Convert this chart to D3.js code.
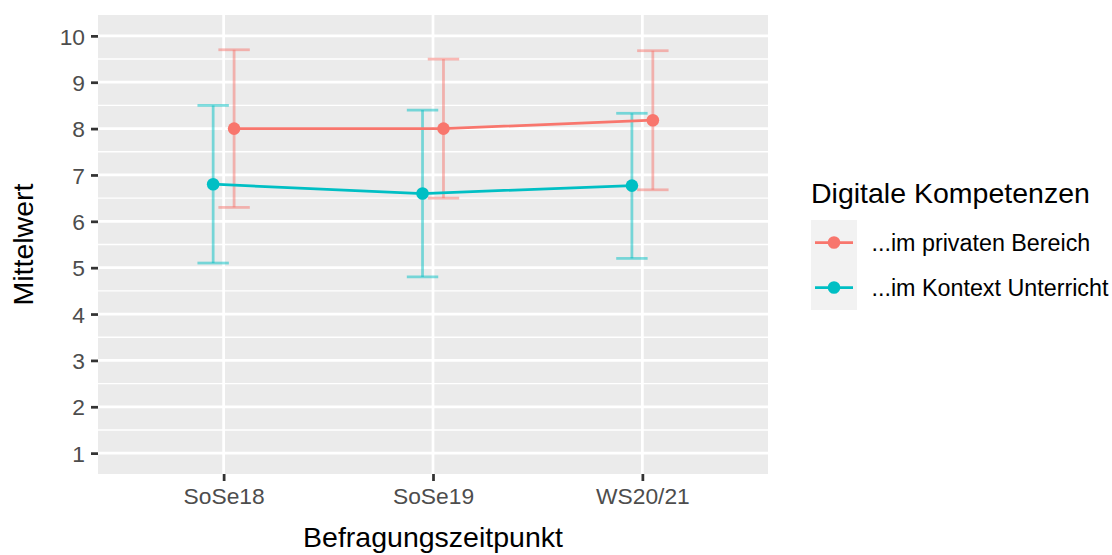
<!DOCTYPE html>
<html>
<head>
<meta charset="utf-8">
<script src="https://cdn.jsdelivr.net/npm/d3@7"></script>
<style>
  html, body { margin: 0; padding: 0; background: #ffffff; }
  svg { display: block; font-family: "Liberation Sans", Arial, Helvetica, sans-serif; }
</style>
</head>
<body>
<svg id="chart" width="1112" height="555"></svg>
<script>
// Survey waves
const categories = ["SoSe18", "SoSe19", "WS20/21"];

// Series labels (legend)
const seriesNames = ["...im privaten Bereich", "...im Kontext Unterricht"];
const seriesColors = ["#F8766D", "#00BFC4"];

// Mean and error-bar bounds per wave: private use
const privatMean  = [8.0, 8.0, 8.18];
const privatLower = [6.3, 6.5, 6.68];
const privatUpper = [9.7, 9.5, 9.68];

// Mean and error-bar bounds per wave: classroom use
const unterrichtMean  = [6.8, 6.6, 6.77];
const unterrichtLower = [5.1, 4.8, 5.2];
const unterrichtUpper = [8.5, 8.4, 8.33];

const yTicks = [1, 2, 3, 4, 5, 6, 7, 8, 9, 10];
const yMinorTicks = [1.5, 2.5, 3.5, 4.5, 5.5, 6.5, 7.5, 8.5, 9.5];

const series = [
  { name: seriesNames[0], color: seriesColors[0], dodge: 0.05,
    values: categories.map((c, i) => ({ cat: c, mean: privatMean[i], lo: privatLower[i], hi: privatUpper[i] })) },
  { name: seriesNames[1], color: seriesColors[1], dodge: -0.05,
    values: categories.map((c, i) => ({ cat: c, mean: unterrichtMean[i], lo: unterrichtLower[i], hi: unterrichtUpper[i] })) }
];

const panel = { left: 98, top: 15, right: 768, bottom: 474 };
const svg = d3.select("#chart");

const x = d3.scalePoint().domain(categories).range([panel.left, panel.right]).padding(0.6);
const y = d3.scaleLinear().domain([0.55, 10.45]).range([panel.bottom, panel.top]);
const step = x.step();

const lw = 2.75;       // ggplot linewidth 0.5 at this resolution
const tickFont = 22.8;
const legendFont = 23.3;
const titleFont = 28.5;

// Panel background
svg.append("rect")
  .attr("x", panel.left).attr("y", panel.top)
  .attr("width", panel.right - panel.left).attr("height", panel.bottom - panel.top)
  .attr("fill", "#EBEBEB");

const grid = svg.append("g");
grid.selectAll("line.minor").data(yMinorTicks).join("line")
  .attr("x1", panel.left).attr("x2", panel.right)
  .attr("y1", d => y(d)).attr("y2", d => y(d))
  .attr("stroke", "#ffffff").attr("stroke-width", lw / 2);
grid.selectAll("line.majorY").data(yTicks).join("line")
  .attr("x1", panel.left).attr("x2", panel.right)
  .attr("y1", d => y(d)).attr("y2", d => y(d))
  .attr("stroke", "#ffffff").attr("stroke-width", lw);
grid.selectAll("line.majorX").data(categories).join("line")
  .attr("x1", d => x(d)).attr("x2", d => x(d))
  .attr("y1", panel.top).attr("y2", panel.bottom)
  .attr("stroke", "#ffffff").attr("stroke-width", lw);

// Axes
const yAxis = d3.axisLeft(y).tickValues(yTicks).tickSize(7).tickPadding(6).tickFormat(d3.format("d"));
const gy = svg.append("g").attr("transform", `translate(${panel.left},0)`).call(yAxis);
const xAxis = d3.axisBottom(x).tickSize(7).tickPadding(5);
const gx = svg.append("g").attr("transform", `translate(0,${panel.bottom})`).call(xAxis);

[gy, gx].forEach(g => {
  g.select(".domain").remove();
  g.selectAll(".tick line").attr("stroke", "#333333").attr("stroke-width", lw);
  g.selectAll(".tick text").attr("fill", "#4D4D4D")
    .style("font-size", tickFont + "px")
    .style("font-family", "'Liberation Sans', Arial, Helvetica, sans-serif");
});
gy.selectAll(".tick text").attr("dy", "0.36em");
gx.selectAll(".tick text").attr("dy", "0").attr("y", 30);

// Error bars
const capHalf = 0.075 * step;
series.forEach(s => {
  const g = svg.append("g").attr("stroke", s.color).attr("stroke-opacity", 0.5).attr("stroke-width", lw);
  s.values.forEach(v => {
    const cx = x(v.cat) + s.dodge * step;
    g.append("line").attr("x1", cx).attr("x2", cx).attr("y1", y(v.lo)).attr("y2", y(v.hi));
    g.append("line").attr("x1", cx - capHalf).attr("x2", cx + capHalf).attr("y1", y(v.lo)).attr("y2", y(v.lo));
    g.append("line").attr("x1", cx - capHalf).attr("x2", cx + capHalf).attr("y1", y(v.hi)).attr("y2", y(v.hi));
  });
});

// Lines
const line = d3.line().x(d => d.px).y(d => y(d.mean));
series.forEach(s => {
  const pts = s.values.map(v => ({ ...v, px: x(v.cat) + s.dodge * step }));
  svg.append("path").datum(pts)
    .attr("d", line).attr("fill", "none")
    .attr("stroke", s.color).attr("stroke-width", lw);
});

// Points
series.forEach(s => {
  svg.append("g").selectAll("circle").data(s.values).join("circle")
    .attr("cx", d => x(d.cat) + s.dodge * step)
    .attr("cy", d => y(d.mean))
    .attr("r", 6.3)
    .attr("fill", s.color);
});

// Axis titles
svg.append("text")
  .attr("x", (panel.left + panel.right) / 2).attr("y", 546.5)
  .attr("text-anchor", "middle")
  .style("font-size", titleFont + "px").attr("fill", "#000")
  .text("Befragungszeitpunkt");
svg.append("text")
  .attr("transform", `translate(33,${(panel.top + panel.bottom) / 2}) rotate(-90)`)
  .attr("text-anchor", "middle")
  .style("font-size", titleFont + "px").attr("fill", "#000")
  .text("Mittelwert");

// Legend
const legend = svg.append("g");
legend.append("text")
  .attr("x", 811).attr("y", 203)
  .style("font-size", titleFont + "px").attr("fill", "#000")
  .text("Digitale Kompetenzen");
const keyTop = 220, keyH = 45, keyX = 811, keyW = 46;
series.forEach((s, i) => {
  const ky = keyTop + i * keyH;
  legend.append("rect")
    .attr("x", keyX).attr("y", ky).attr("width", keyW).attr("height", keyH)
    .attr("fill", "#F2F2F2");
  legend.append("line")
    .attr("x1", keyX + 4).attr("x2", keyX + keyW - 4)
    .attr("y1", ky + keyH / 2).attr("y2", ky + keyH / 2)
    .attr("stroke", s.color).attr("stroke-width", lw);
  legend.append("circle")
    .attr("cx", keyX + keyW / 2).attr("cy", ky + keyH / 2).attr("r", 6.3)
    .attr("fill", s.color);
  legend.append("text")
    .attr("x", 871.5).attr("y", ky + keyH / 2).attr("dy", "0.36em")
    .style("font-size", legendFont + "px").attr("fill", "#000")
    .text(s.name);
});
</script>
</body>
</html>
